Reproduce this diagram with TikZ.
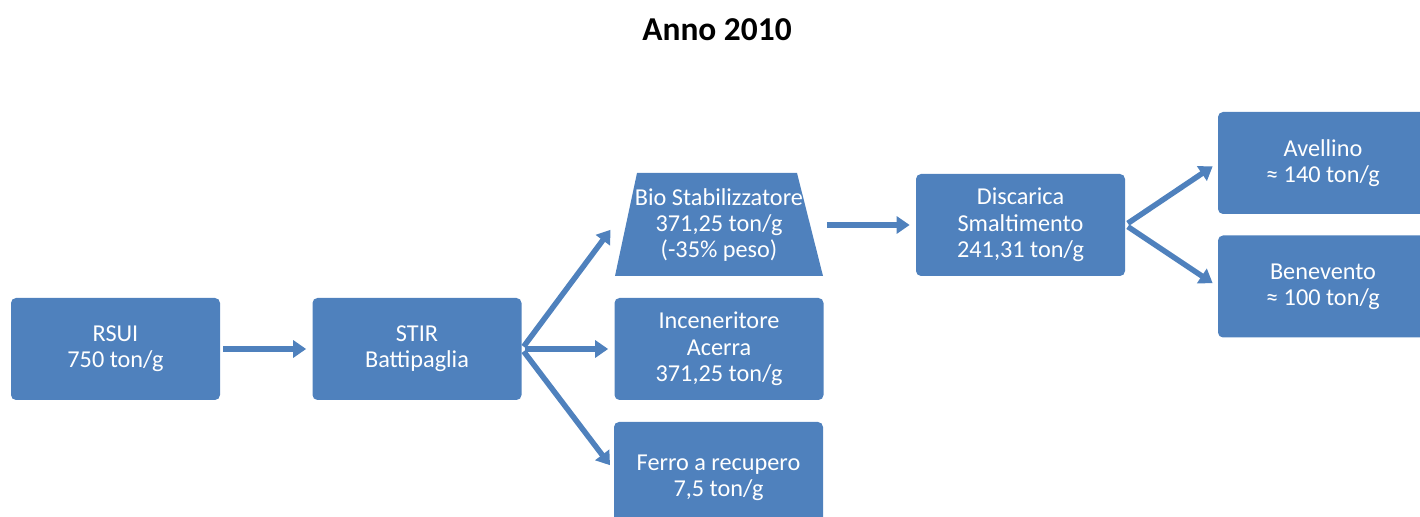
\documentclass[tikz,border=0pt]{standalone}
\usepackage{fontspec}
\setmainfont{Carlito}
\usetikzlibrary{arrows.meta}
\definecolor{boxblue}{RGB}{79,129,189}
\begin{document}
\begin{tikzpicture}[
  box/.style={fill=boxblue, text=white, rounded corners=0.1cm, minimum width=4.18cm, minimum height=2.04cm, align=center, font=\fontsize{13.8}{15}\selectfont},
  flow/.style={draw=boxblue, line width=0.11cm, -{Triangle[length=0.26cm,width=0.34cm]}, shorten <=0.06cm, shorten >=0.12cm}]
\useasboundingbox (0,0) rectangle (28.4,10.34);
\clip (0,0) rectangle (28.4,10.34);
\node[font=\fontsize{19}{22}\selectfont\bfseries] (title) at (14.34,9.74) {Anno 2010};
\node[box] (rsui) at (2.31,3.36) {RSUI\\750 ton/g};
\node[box] (stir) at (8.34,3.36) {STIR\\Battipaglia};
\fill[boxblue] (12.30,4.82) -- (16.46,4.82) -- (15.94,6.88) -- (12.74,6.88) -- cycle;
\node[box, fill=none] (bio) at (14.38,5.84) {Bio Stabilizzatore\\371,25 ton/g\\(-35\% peso)};
\node[box] (incin) at (14.38,3.36) {Inceneritore\\Acerra\\371,25 ton/g};
\node[box, minimum height=2.24cm] (ferro) at (14.37,0.78) {Ferro a recupero\\7,5 ton/g};
\node[box] (disc) at (20.41,5.84) {Discarica\\Smaltimento\\241,31 ton/g};
\node[box, minimum width=4.2cm] (avel) at (26.46,7.08) {Avellino\\≈ 140 ton/g};
\node[box, minimum width=4.2cm] (bene) at (26.46,4.61) {Benevento\\≈ 100 ton/g};
\draw[flow] (rsui) -- (stir);
\draw[flow] (stir.east) -- (bio.west);
\draw[flow] (stir.east) -- (incin.west);
\draw[flow] (stir.east) -- ([yshift=0.16cm]ferro.west);
\draw[flow] (bio.east) -- (disc.west);
\draw[flow] (disc.east) -- (avel.west);
\draw[flow] (disc.east) -- (bene.west);
\end{tikzpicture}
\end{document}
